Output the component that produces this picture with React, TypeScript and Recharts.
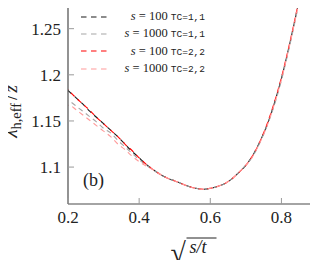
import { LineChart, Line, XAxis, YAxis, Legend, Customized } from 'recharts';

// sqrt(s/t) grid and lambda_h,eff / z
const sqrtSt = [0.2, 0.21, 0.22, 0.24, 0.26, 0.28, 0.3, 0.32, 0.34, 0.36, 0.38, 0.4, 0.42, 0.44, 0.46, 0.48, 0.5, 0.52, 0.54, 0.56, 0.58, 0.6, 0.62, 0.64, 0.66, 0.68, 0.7, 0.72, 0.74, 0.76, 0.78, 0.8, 0.82, 0.84, 0.86];
const s100Tc11 = [1.183, 1.1795, 1.176, 1.169, 1.161, 1.154, 1.147, 1.14, 1.133, 1.125, 1.117, 1.11, 1.103, 1.097, 1.092, 1.088, 1.085, 1.082, 1.079, 1.077, 1.076, 1.077, 1.079, 1.082, 1.087, 1.094, 1.102, 1.113, 1.128, 1.146, 1.169, 1.196, 1.228, 1.263, 1.3];
const s1000Tc11 = [null, 1.17, 1.167, 1.161, 1.155, 1.149, 1.142, 1.137, 1.129, 1.122, 1.115, 1.108, 1.102, 1.097, 1.092, 1.088, 1.085, 1.082, 1.079, 1.077, 1.076, 1.077, 1.079, 1.082, 1.087, 1.094, 1.102, 1.112, 1.127, 1.145, 1.167, 1.194, 1.226, 1.261, 1.298];
const s100Tc22 = [1.184, 1.18, 1.176, 1.169, 1.162, 1.154, 1.147, 1.14, 1.133, 1.125, 1.118, 1.11, 1.103, 1.097, 1.092, 1.088, 1.085, 1.082, 1.079, 1.077, 1.076, 1.077, 1.079, 1.082, 1.087, 1.094, 1.102, 1.113, 1.128, 1.147, 1.17, 1.197, 1.229, 1.264, 1.301];
const s1000Tc22 = [1.167, 1.166, 1.163, 1.157, 1.151, 1.145, 1.139, 1.133, 1.125, 1.119, 1.112, 1.106, 1.101, 1.097, 1.092, 1.088, 1.085, 1.082, 1.079, 1.077, 1.076, 1.077, 1.079, 1.082, 1.087, 1.094, 1.102, 1.112, 1.127, 1.145, 1.168, 1.195, 1.227, 1.262, 1.299];

const xTicks = [0.2, 0.4, 0.6, 0.8];
const yTicks = [1.1, 1.15, 1.2, 1.25];

const series = [
  { key: 'a', s: '100', tc: 'TC=1,1', color: '#1a1a1a', offset: 0 },
  { key: 'b', s: '1000', tc: 'TC=1,1', color: '#a6a6a6', offset: 0 },
  { key: 'c', s: '100', tc: 'TC=2,2', color: '#ff0000', offset: 4.5 },
  { key: 'd', s: '1000', tc: 'TC=2,2', color: '#ff9a9a', offset: 4.5 },
];

const rows = sqrtSt.map((x, i) => ({
  x,
  a: s100Tc11[i],
  b: s1000Tc11[i],
  c: s100Tc22[i],
  d: s1000Tc22[i],
}));

const serif = '"Liberation Serif", "DejaVu Serif", serif';
const mono = '"Liberation Mono", "DejaVu Sans Mono", monospace';
const frame = { stroke: '#4a4a4a', strokeWidth: 1.2 };
const tickCol = '#9a9a9a';
const txt = { fontFamily: serif, fontSize: 17, fill: '#222' };

const BottomTick = (p: any) => (
  <g>
    <line x1={p.x} x2={p.x} y1={p.y} y2={p.y - 6} stroke={tickCol} />
    <text x={p.x} y={p.y + 19} textAnchor="middle" style={txt}>{String(p.payload.value)}</text>
  </g>
);
const TopTick = (p: any) => <line x1={p.x} x2={p.x} y1={p.y} y2={p.y + 6} stroke={tickCol} />;
const LeftTick = (p: any) => (
  <g>
    <line x1={p.x} x2={p.x + 6} y1={p.y} y2={p.y} stroke={tickCol} />
    <text x={p.x - 7} y={p.y + 6} textAnchor="end" style={txt}>{String(p.payload.value)}</text>
  </g>
);
const RightTick = (p: any) => <line x1={p.x} x2={p.x - 6} y1={p.y} y2={p.y} stroke={tickCol} />;

const YLabel = (p: any) => {
  const vb = p.viewBox;
  const cx = vb.x + 17;
  const cy = vb.y + vb.height / 2 + 9;
  return (
    <text x={cx} y={cy} transform={`rotate(-90 ${cx} ${cy})`} textAnchor="middle" style={{ ...txt, fontSize: 19 }}>
      <tspan style={{ fontStyle: 'italic' }}>λ</tspan>
      <tspan style={{ fontSize: 14.5 }} dy={4}>h,eff</tspan>
      <tspan dy={-4} dx={3}>/</tspan>
      <tspan dx={2} style={{ fontStyle: 'italic' }}>z</tspan>
    </text>
  );
};

const XLabel = (p: any) => {
  const vb = p.viewBox;
  const cx = vb.x + vb.width / 2;
  return (
    <g>
      <text x={cx - 22} y={vb.y + 58} style={{ ...txt, fontSize: 28 }}>√</text>
      <line x1={cx - 6} x2={cx + 24} y1={vb.y + 34} y2={vb.y + 34} stroke="#222" strokeWidth={1} />
      <text x={cx - 3} y={vb.y + 49} style={{ ...txt, fontSize: 18, fontStyle: 'italic' }}>s/t</text>
    </g>
  );
};

const LegendBox = () => (
  <div style={{ fontFamily: serif, color: '#222' }}>
    {series.map((s) => (
      <div key={s.key} style={{ display: 'flex', alignItems: 'center', height: 17.3 }}>
        <svg width={36} height={8}>
          <line x1={3} x2={33} y1={4} y2={4} stroke={s.color} strokeWidth={1.2} strokeDasharray="5.5 4.5" />
        </svg>
        <div style={{ width: 91, textAlign: 'right', whiteSpace: 'nowrap', fontSize: 12.5 }}>
          <i>s</i> = {s.s} <span style={{ fontFamily: mono, fontSize: 9.5 }}>{s.tc}</span>
        </div>
      </div>
    ))}
  </div>
);

export default function App() {
  return (
    <div style={{ margin: -8, width: 318, height: 268 }}>
      <LineChart width={318} height={268} data={rows} margin={{ top: 1, right: 1, bottom: 0, left: 0 }}>
        <XAxis xAxisId="b" dataKey="x" type="number" domain={[0.2, 0.9]} ticks={xTicks} interval={0} allowDataOverflow
          orientation="bottom" height={64} tickSize={0} tickMargin={0} tickLine={false} axisLine={frame}
          tick={<BottomTick />} label={<XLabel />} />
        <XAxis xAxisId="t" dataKey="x" type="number" domain={[0.2, 0.9]} ticks={xTicks} interval={0} allowDataOverflow
          orientation="top" height={0} tickSize={0} tickMargin={0} tickLine={false} axisLine={frame} tick={<TopTick />} />
        <YAxis yAxisId="l" type="number" domain={[1.06, 1.28]} ticks={yTicks} interval={0} allowDataOverflow
          width={68} tickSize={0} tickMargin={0} tickLine={false} axisLine={frame} tick={<LeftTick />} label={<YLabel />} />
        <YAxis yAxisId="r" orientation="right" type="number" domain={[1.06, 1.28]} ticks={yTicks} interval={0} allowDataOverflow
          width={0} tickSize={0} tickMargin={0} tickLine={false} axisLine={frame} tick={<RightTick />} />
        {series.map((s) => (
          <Line key={s.key} xAxisId="b" yAxisId="l" dataKey={s.key} type="monotone" stroke={s.color} strokeWidth={1.1}
            strokeDasharray="5 4" strokeDashoffset={s.offset} dot={false} isAnimationActive={false} />
        ))}
        <Customized component={() => (
          <text x={83} y={186} style={{ ...txt, fontSize: 18 }}>(b)</text>
        )} />
        <Legend layout="vertical" align="center" verticalAlign="middle" content={<LegendBox />}
          wrapperStyle={{ top: 8, left: 78, width: 130 }} />
      </LineChart>
    </div>
  );
}
